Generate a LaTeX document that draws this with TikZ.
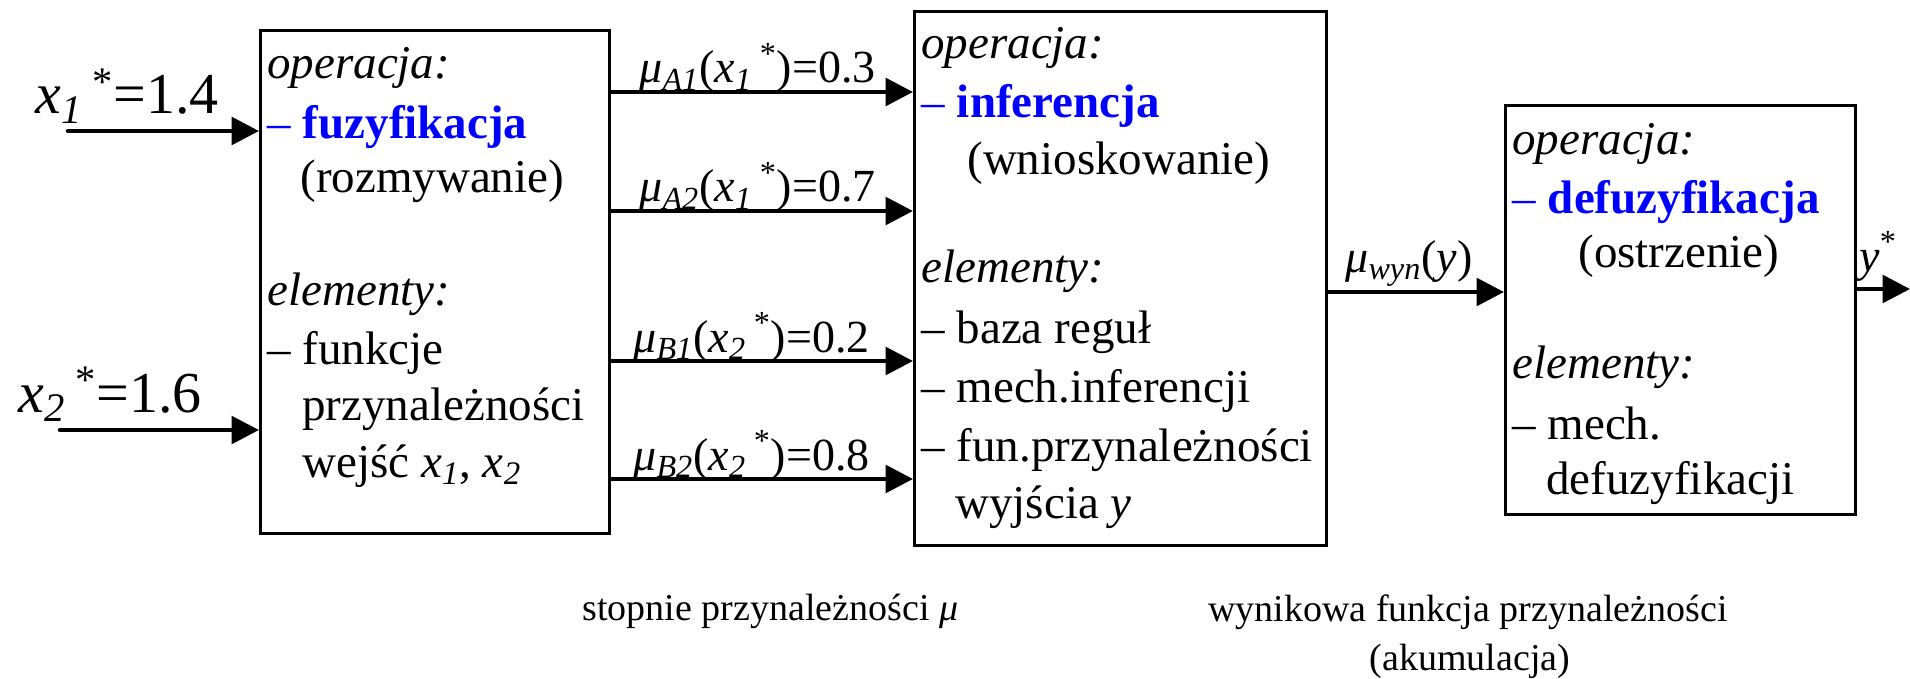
\documentclass[tikz,border=0pt]{standalone}
\usepackage{fontspec}
\setmainfont{Liberation Serif}
\usetikzlibrary{arrows.meta}
\definecolor{kblue}{RGB}{0,0,255}
\newcommand{\isub}[1]{\textsubscript{\itshape #1}}
\newcommand{\sstar}{\textsuperscript{*}}
\tikzset{
  box/.style={draw, line width=1.5pt, anchor=north west, inner sep=0pt},
  txt/.style={anchor=base west, inner sep=0pt, font=\fontsize{23.5pt}{28pt}\selectfont},
  lab/.style={anchor=base west, inner sep=0pt, font=\fontsize{23pt}{28pt}\selectfont},
  biglab/.style={anchor=base west, inner sep=0pt, font=\fontsize{29pt}{34pt}\selectfont},
  note/.style={anchor=base, inner sep=0pt, font=\fontsize{19pt}{23pt}\selectfont},
  arr/.style={line width=2.25pt, line cap=round, -{Triangle[length=13.75pt,width=13.75pt]}},
  hl/.style={text=kblue}
}
\begin{document}
\begin{tikzpicture}[x=0.5pt,y=-0.5pt]
\useasboundingbox (0,0) rectangle (1910,679);

% boxes
\node[box, minimum width=174.25pt, minimum height=251.25pt] (b1) at (259,29) {};
\node[box, minimum width=206pt, minimum height=267pt] (b2) at (913,10) {};
\node[box, minimum width=174.75pt, minimum height=204.5pt] (b3) at (1504,104) {};

% box 1 text
\node[txt] (b1a) at (267,79) {\textit{operacja:}};
\node[txt] (b1b) at (267,139) {{\color{kblue}– \textbf{fuzyfikacja}}};
\node[txt] (b1c) at (300,193) {(rozmywanie)};
\node[txt] (b1d) at (267,305) {\textit{elementy:}};
\node[txt] (b1e) at (267,364) {– funkcje};
\node[txt] (b1f) at (302,420) {przynależności};
\node[txt] (b1g) at (302,477) {wejść \textit{x}\isub{1}, \textit{x}\isub{2}};

% box 2 text
\node[txt] (b2a) at (921,59) {\textit{operacja:}};
\node[txt] (b2b) at (921,118) {{\color{kblue}– \textbf{inferencja}}};
\node[txt] (b2c) at (967,175) {(wnioskowanie)};
\node[txt] (b2d) at (921,282) {\textit{elementy:}};
\node[txt] (b2e) at (921,343) {– baza reguł};
\node[txt] (b2f) at (921,402) {– mech.inferencji};
\node[txt] (b2g) at (921,461) {– fun.przynależności};
\node[txt] (b2h) at (955,518) {wyjścia \textit{y}};

% box 3 text
\node[txt] (b3a) at (1512,155) {\textit{operacja:}};
\node[txt] (b3b) at (1512,214) {{\color{kblue}– \textbf{defuzyfikacja}}};
\node[txt] (b3c) at (1578,267) {(ostrzenie)};
\node[txt] (b3d) at (1512,378) {\textit{elementy:}};
\node[txt] (b3e) at (1512,439) {– mech.};
\node[txt] (b3f) at (1546,494) {defuzyfikacji};

% input arrows
\coordinate (x1s) at (68,131);
\coordinate (x2s) at (60,430);
\draw[arr] (x1s) -- (x1s -| b1.west);
\draw[arr] (x2s) -- (x2s -| b1.west);
\node[biglab] (lx1) at (35,114) {\textit{x}\isub{1}\,\sstar=1.4};
\node[biglab] (lx2) at (18,412) {\textit{x}\isub{2}\,\sstar=1.6};

% membership arrows
\coordinate (yA1) at (0,92);
\coordinate (yA2) at (0,211);
\coordinate (yB1) at (0,361);
\coordinate (yB2) at (0,479);
\draw[arr] (b1.east |- yA1) -- (b2.west |- yA1);
\draw[arr] (b1.east |- yA2) -- (b2.west |- yA2);
\draw[arr] (b1.east |- yB1) -- (b2.west |- yB1);
\draw[arr] (b1.east |- yB2) -- (b2.west |- yB2);
\node[lab] (lA1) at (639,83) {\textit{μ}\isub{A1}(\textit{x}\isub{1}\,\sstar)=0.3};
\node[lab] (lA2) at (639,202) {\textit{μ}\isub{A2}(\textit{x}\isub{1}\,\sstar)=0.7};
\node[lab] (lB1) at (633,352) {\textit{μ}\isub{B1}(\textit{x}\isub{2}\,\sstar)=0.2};
\node[lab] (lB2) at (633,470) {\textit{μ}\isub{B2}(\textit{x}\isub{2}\,\sstar)=0.8};

% result arrows
\coordinate (yW) at (0,292);
\coordinate (yY) at (0,289);
\coordinate (yend) at (1910,289);
\draw[arr] (b2.east |- yW) -- (b3.west |- yW);
\draw[arr] (b3.east |- yY) -- (yend);
\node[lab] (lW) at (1345,272) {\textit{μ}\isub{wyn}(\textit{y})};
\node[lab] (lY) at (1859,271) {\textit{y}\sstar};

% bottom notes
\node[note, anchor=base west] (n1) at (582,620) {stopnie przynależności \textit{μ}};
\node[note] (n2) at (1468,621) {wynikowa funkcja przynależności};
\node[note] (n3) at (1470,670) {(akumulacja)};
\end{tikzpicture}
\end{document}
